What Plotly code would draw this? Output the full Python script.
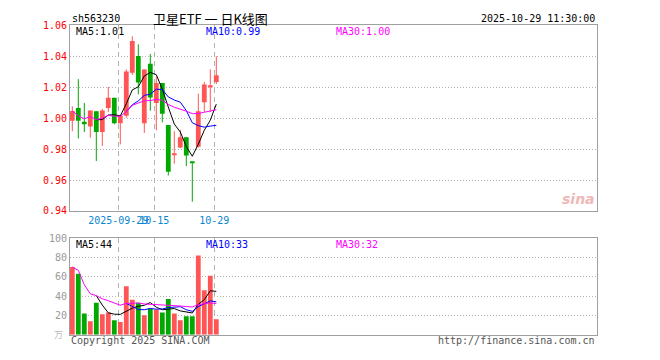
import plotly.graph_objects as go
import numpy as np
import pandas as pd

# ---------------- data ----------------
dates = ["2025-09-17", "2025-09-18", "2025-09-19", "2025-09-22", "2025-09-23",
         "2025-09-24", "2025-09-25", "2025-09-26", "2025-09-29", "2025-09-30",
         "2025-10-09", "2025-10-10", "2025-10-13", "2025-10-14", "2025-10-15",
         "2025-10-16", "2025-10-17", "2025-10-20", "2025-10-21", "2025-10-22",
         "2025-10-23", "2025-10-24", "2025-10-27", "2025-10-28", "2025-10-29"]
opens = [0.9983, 1.0065, 0.9977, 0.9946, 1.0044, 0.9910, 1.0065, 1.0131, 0.9967, 1.0015,
         1.0294, 1.0402, 0.9967, 1.0352, 1.0098, 1.0227, 0.9956, 0.9763, 0.9810, 0.9877,
         0.9716, 0.9815, 1.0102, 1.0200, 1.0233]
highs = [1.0077, 1.0252, 1.0098, 1.0050, 1.0044, 1.0060, 1.0202, 1.0131, 1.0015, 1.0315,
         1.0529, 1.0477, 1.0315, 1.0415, 1.0269, 1.0227, 0.9956, 0.9915, 0.9925, 0.9877,
         0.9716, 1.0158, 1.0233, 1.0315, 1.0400]
lows = [0.9915, 0.9869, 0.9910, 0.9873, 0.9723, 0.9820, 1.0040, 0.9960, 0.9830, 1.0002,
        1.0279, 1.0154, 0.9904, 1.0048, 0.9921, 0.9973, 0.9629, 0.9706, 0.9806, 0.9690,
        0.9460, 0.9810, 1.0040, 1.0040, 1.0220]
closes = [1.0046, 0.9983, 0.9960, 1.0050, 0.9910, 1.0050, 1.0131, 0.9967, 1.0015, 1.0302,
          1.0498, 1.0231, 1.0315, 1.0133, 1.0227, 1.0029, 0.9654, 0.9765, 0.9877, 0.9758,
          0.9713, 1.0044, 1.0217, 1.0202, 1.0277]
volumes = [70, 63, 22, 14, 33, 21, 23, 15, 13, 50, 36, 33, 20, 27, 26,
           23, 37, 22, 15, 19, 19, 82, 46, 61, 16]

tick_dates = ["2025-09-29", "2025-10-15", "2025-10-29"]
tick_text = ["2025-09-29", "10-15", "10-29"]
price_ticks = [0.94, 0.96, 0.98, 1.00, 1.02, 1.04, 1.06]
vol_ticks = [20, 40, 60, 80, 100]

code = "sh563230"
title = "卫星ETF 一 日K线图"
stamp = "2025-10-29 11:30:00"
ma_price_text = ["MA5:1.01", "MA10:0.99", "MA30:1.00"]
ma_vol_text = ["MA5:44", "MA10:33", "MA30:32"]

# ---------------- styling ----------------
W, H = 660, 360
UP = "#ff5555"
DOWN = "#00a800"
MONO = "DejaVu Sans Mono"
GRID = "#b4b4b4"
FRAME = "#a0a0a0"
MA_COLORS = ["#000000", "#0000ff", "#ff00ff"]

def px(x):
    return x / W

def py(y):
    return 1 - y / H

n = len(dates)
idx = np.arange(n)
o = np.array(opens); c = np.array(closes)
hi = np.array(highs); lo = np.array(lows)
up = c >= o
colors = [UP if u else DOWN for u in up]

cs = pd.Series(closes)
vs = pd.Series(volumes, dtype=float)
ma_price = [cs.rolling(5).mean(), cs.rolling(10).mean(), cs.rolling(30, min_periods=1).mean()]
ma_vol = [vs.rolling(5).mean(), vs.rolling(10).mean(), vs.rolling(30, min_periods=1).mean()]

fig = go.Figure()

# wicks
for flag, col in [(True, UP), (False, DOWN)]:
    xs, ys = [], []
    for i in idx:
        if up[i] == flag:
            xs += [i, i, None]
            ys += [lo[i], hi[i], None]
    fig.add_trace(go.Scatter(x=xs, y=ys, mode="lines", line=dict(color=col, width=1),
                             xaxis="x", yaxis="y", hoverinfo="skip"))

# bodies
min_h = 0.0007
base = np.minimum(o, c)
height = np.maximum(np.abs(c - o), min_h)
fig.add_trace(go.Bar(x=idx, y=height, base=base, marker_color=colors, marker_line_width=0,
                     width=0.8, xaxis="x", yaxis="y"))

# price MAs
for s, col in zip(ma_price, MA_COLORS):
    fig.add_trace(go.Scatter(x=idx, y=s, mode="lines", line=dict(color=col, width=1),
                             xaxis="x", yaxis="y", hoverinfo="skip"))

# volume bars
fig.add_trace(go.Bar(x=idx, y=volumes, marker_color=colors, marker_line_width=0,
                     width=0.8, xaxis="x2", yaxis="y2"))
for s, col in zip(ma_vol, MA_COLORS):
    fig.add_trace(go.Scatter(x=idx, y=s, mode="lines", line=dict(color=col, width=1),
                             xaxis="x2", yaxis="y2", hoverinfo="skip"))

# axes geometry
left, right = 70, 597
first_center = 72.3
step = 6.0
r0 = -(first_center - left) / step
r1 = r0 + (right - left) / step
grid_off = -0.33
grid_pos = [dates.index(d) + grid_off for d in tick_dates]

xcommon = dict(range=[r0, r1], showline=True, mirror=True, linecolor=FRAME, linewidth=1,
               showgrid=True, gridcolor=GRID, griddash="5px,4px", gridwidth=1,
               tickmode="array", tickvals=grid_pos, zeroline=False, ticks="",
               tickangle=0, domain=[px(left), px(right)], fixedrange=True)

fig.update_layout(
    width=W, height=H, margin=dict(l=0, r=0, t=0, b=0),
    paper_bgcolor="white", plot_bgcolor="white", showlegend=False,
    barmode="overlay",
    xaxis=dict(xcommon, anchor="y", ticktext=tick_text,
               tickfont=dict(family=MONO, size=10, color="#0a86d0")),
    yaxis=dict(domain=[py(212), py(20)], range=[0.94, 1.06], anchor="x",
               tickmode="array", tickvals=price_ticks, tickformat=".2f",
               tickfont=dict(family=MONO, size=10, color="#ff0000"),
               showline=True, mirror=True, linecolor=FRAME, linewidth=1,
               showgrid=True, gridcolor=GRID, griddash="1px,2px", zeroline=False, ticks=""),
    xaxis2=dict(xcommon, anchor="y2", ticktext=["", "", ""], showticklabels=False),
    yaxis2=dict(domain=[py(340), py(240)], range=[0, 100], anchor="x2",
                tickmode="array", tickvals=vol_ticks,
                tickfont=dict(family=MONO, size=10, color="#999999"),
                showline=True, mirror=True, linecolor=FRAME, linewidth=1,
                showgrid=True, gridcolor=GRID, griddash="1px,2px", zeroline=False, ticks=""),
)

def ann(text, x, y, xanchor="left", color="#000", size=10, family=MONO, **kw):
    fig.add_annotation(text=text, x=px(x), y=py(y), xref="paper", yref="paper",
                       xanchor=xanchor, yanchor="middle", showarrow=False,
                       font=dict(family=family, size=size, color=color), **kw)

ann(code, 70, 13)
ann(title, 210, 13, xanchor="center", size=13, family="Noto Sans CJK SC")
ann(stamp, 597, 13, xanchor="right")
for t, x, col in zip(ma_price_text, [74, 204, 334], MA_COLORS):
    ann(t, x, 26, color=col)
for t, x, col in zip(ma_vol_text, [74, 204, 334], MA_COLORS):
    ann(t, x, 246.5, color=col)
ann("Copyright 2025 SINA.COM", 69, 346, color="#555555")
ann("http://finance.sina.com.cn", 597, 346, xanchor="right", color="#555555")
ann("万", 65, 340, xanchor="right", color="#bbbbbb", size=9, family="Noto Sans CJK SC")
ann("<b><i>sina</i></b>", 597, 200, xanchor="right", color="#f0b8b8", size=14, family="Verdana, DejaVu Sans")

fig.write_html("out.html")
